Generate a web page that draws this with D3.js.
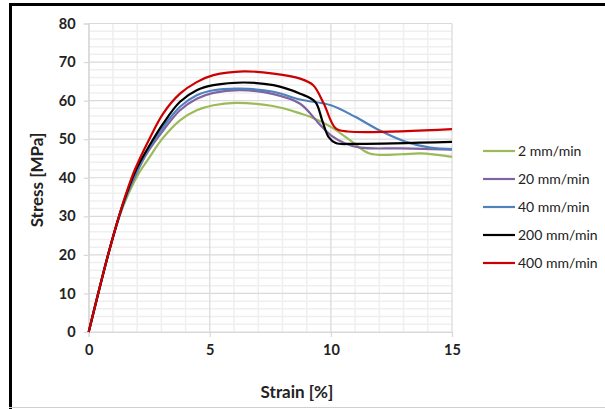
<!DOCTYPE html>
<html>
<head>
<meta charset="utf-8">
<script src="https://cdn.jsdelivr.net/npm/d3@7"></script>
<style>
  body { margin: 0; background: #fff; }
  text { font-family: Lato, "Open Sans", sans-serif; }
</style>
</head>
<body>
<svg id="chart" width="605" height="409"></svg>
<script>
	// series names and colours
	var seriesNames = ["2 mm/min", "20 mm/min", "40 mm/min", "200 mm/min", "400 mm/min"];
	var seriesColors = ["#9bbb59", "#8064a2", "#4f81bd", "#000000", "#cc0000"];

	// strain [%] / stress [MPa]
	var strain2 = [0, 0.8, 1.27, 1.65, 2.1, 2.5, 3.05, 3.77, 4.46, 5.15, 6.05, 7.6, 8.73, 9.15, 10, 10.8, 11.6, 12.9, 13.7, 15];
	var stress2 = [0, 20, 30, 36, 41.5, 45.2, 50.2, 54.9, 57.5, 58.8, 59.4, 58.6, 56.7, 55.8, 53.2, 49.7, 46.3, 46.1, 46.3, 45.4];

	var strain20 = [0, 0.8, 1.26, 1.6, 2.0, 2.4, 3.08, 3.77, 4.46, 5.15, 6.25, 7.63, 8.73, 9.5, 10, 10.6, 11.2, 12.9, 15];
	var stress20 = [0, 20, 30, 36, 41.5, 46.3, 52.3, 57.5, 60.5, 62, 62.7, 61.7, 59.2, 54.1, 51, 48.9, 47.8, 47.6, 47.3];

	var strain40 = [0, 0.8, 1.26, 1.6, 2.0, 2.4, 3.08, 3.77, 4.46, 5.15, 6.25, 7.63, 8.73, 10, 11, 12, 13.1, 14.1, 15];
	var stress40 = [0, 20, 30, 36, 41.8, 46.7, 53.2, 58.4, 61.4, 62.7, 63.1, 62.3, 60.3, 58.8, 55.8, 52.3, 49.3, 47.8, 47.4];

	var strain200 = [0, 0.8, 1.25, 1.57, 1.95, 2.4, 3.08, 3.77, 4.46, 5.15, 6.4, 7.63, 8.73, 9.35, 9.64, 9.9, 10.2, 11, 15];
	var stress200 = [0, 20, 30, 36, 42, 47.2, 54.1, 59.7, 62.7, 64, 64.7, 64, 61.8, 59.7, 54.9, 50.6, 49.0, 48.8, 49.3];

	var strain400 = [0, 0.8, 1.25, 1.55, 1.9, 2.5, 3.08, 3.77, 4.46, 5.15, 6.4, 7.63, 8.73, 9.27, 9.7, 10.2, 10.7, 15];
	var stress400 = [0, 20, 30, 36, 42, 50, 56.7, 61.8, 64.8, 66.6, 67.6, 67.0, 65.7, 64, 59.3, 52.8, 52, 52.6];

	var strainList = [strain2, strain20, strain40, strain200, strain400];
	var stressList = [stress2, stress20, stress40, stress200, stress400];

	var xTicks = [0, 5, 10, 15];
	var yTicks = [0, 10, 20, 30, 40, 50, 60, 70, 80];

	var margin = {top: 23.5, left: 88.7, right: 153, bottom: 77};
	var width = 605 - margin.left - margin.right;
	var height = 409 - margin.top - margin.bottom;

	var svg = d3.select('#chart');

	// outer frame
	svg.append('line').attr('x1', 9).attr('x2', 605).attr('y1', 4.5).attr('y2', 4.5)
		.attr('stroke', '#000').attr('stroke-width', 3);
	svg.append('line').attr('x1', 10.5).attr('x2', 10.5).attr('y1', 3).attr('y2', 409)
		.attr('stroke', '#000').attr('stroke-width', 3);
	svg.append('line').attr('x1', 9).attr('x2', 605).attr('y1', 407.5).attr('y2', 407.5)
		.attr('stroke', '#d0d0d0').attr('stroke-width', 1);

	var chart = svg.append('g')
		.attr('transform', 'translate(' + margin.left + ',' + margin.top + ')');

	var x = d3.scaleLinear().domain([0, 15]).range([0, width]);
	var y = d3.scaleLinear().domain([0, 80]).range([height, 0]);

	// minor grid
	chart.append('g').selectAll('line')
		.data(d3.range(0, 16, 1).filter((d) => d % 5 != 0))
		.enter().append('line')
		.attr('x1', (d) => x(d)).attr('x2', (d) => x(d))
		.attr('y1', 0).attr('y2', height)
		.attr('stroke', '#efefef').attr('stroke-width', 1.5);
	chart.append('g').selectAll('line')
		.data(d3.range(0, 81, 2).filter((d) => d % 10 != 0))
		.enter().append('line')
		.attr('x1', 0).attr('x2', width)
		.attr('y1', (d) => y(d)).attr('y2', (d) => y(d))
		.attr('stroke', '#efefef').attr('stroke-width', 1.5);

	// major grid
	chart.append('g').selectAll('line')
		.data(xTicks)
		.enter().append('line')
		.attr('x1', (d) => x(d)).attr('x2', (d) => x(d))
		.attr('y1', 0).attr('y2', height)
		.attr('stroke', '#d9d9d9').attr('stroke-width', 1.2);
	chart.append('g').selectAll('line')
		.data(yTicks)
		.enter().append('line')
		.attr('x1', 0).attr('x2', width)
		.attr('y1', (d) => y(d)).attr('y2', (d) => y(d))
		.attr('stroke', '#d9d9d9').attr('stroke-width', 1.2);

	// axes
	var xAxis = chart.append('g')
		.attr('transform', 'translate(0,' + height + ')')
		.call(d3.axisBottom(x).tickValues(xTicks).tickSize(5).tickPadding(8));
	var yAxis = chart.append('g')
		.call(d3.axisLeft(y).tickValues(yTicks).tickSize(5).tickPadding(8));
	[xAxis, yAxis].forEach((a) => {
		a.select('.domain').attr('stroke', '#d9d9d9').attr('stroke-width', 1.2);
		a.selectAll('.tick line').attr('stroke', '#d9d9d9').attr('stroke-width', 1.2);
		a.selectAll('.tick text')
			.attr('font-family', 'Lato, sans-serif')
			.attr('font-size', 14.5).attr('font-weight', 'bold').attr('fill', '#222');
	});

	// curves
	var line = d3.line()
		.x((d) => x(d[0]))
		.y((d) => y(d[1]))
		.curve(d3.curveCatmullRom.alpha(0.5));

	seriesNames.forEach((name, i) => {
		var pts = strainList[i].map((s, j) => [s, stressList[i][j]]);
		chart.append('path')
			.datum(pts)
			.attr('fill', 'none')
			.attr('stroke', seriesColors[i])
			.attr('stroke-width', 2.2)
			.attr('d', line);
	});

	// axis titles
	svg.append('text')
		.attr('x', 297).attr('y', 398)
		.attr('text-anchor', 'middle')
		.attr('font-size', 17).attr('font-weight', 'bold').attr('fill', '#222')
		.text('Strain [%]');
	svg.append('text')
		.attr('transform', 'translate(43,180) rotate(-90)')
		.attr('text-anchor', 'middle')
		.attr('font-size', 17).attr('font-weight', 'bold').attr('fill', '#222')
		.text('Stress [MPa]');

	// legend
	var legend = svg.append('g').attr('transform', 'translate(483,151)');
	seriesNames.forEach((name, i) => {
		var g = legend.append('g').attr('transform', 'translate(0,' + (i * 28) + ')');
		g.append('line').attr('x1', 0).attr('x2', 32).attr('y1', 0).attr('y2', 0)
			.attr('stroke', seriesColors[i]).attr('stroke-width', 2.2);
		g.append('text').attr('x', 35).attr('y', 5)
			.attr('font-size', 14).attr('fill', '#222')
			.text(name);
	});
</script>
</body>
</html>
